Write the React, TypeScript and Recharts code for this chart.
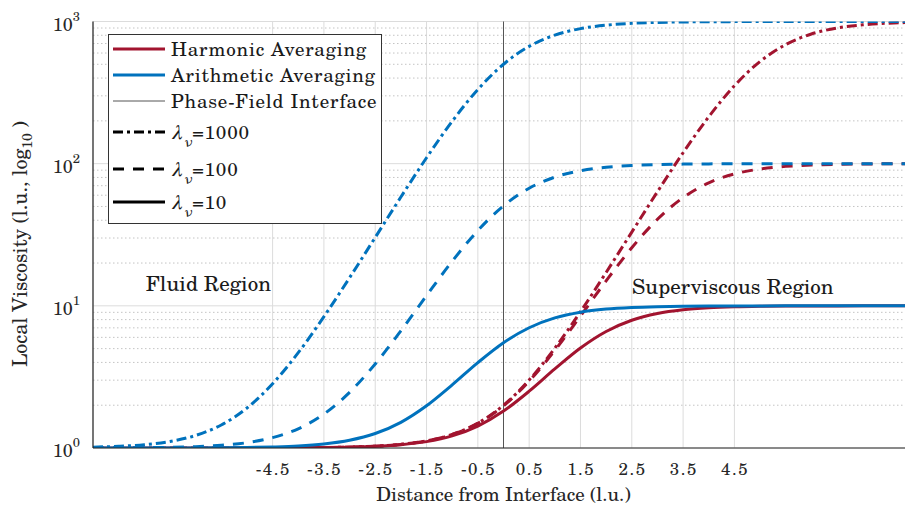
import React from 'react';
import {
  LineChart,
  Line,
  XAxis,
  YAxis,
  CartesianGrid,
  ReferenceLine,
  ReferenceDot,
} from 'recharts';

// distance from the interface (l.u.)
const distance = [-8, -7.5, -7, -6.5, -6, -5.5, -5, -4.5, -4, -3.5, -3, -2.5, -2, -1.5, -1, -0.5, 0, 0.5, 1, 1.5, 2, 2.5, 3, 3.5, 4, 4.5, 5, 5.5, 6, 6.5, 7, 7.5, 8];

// harmonic averaging
const harmonic10 = [1, 1, 1, 1.0001, 1.0002, 1.0004, 1.0008, 1.0017, 1.0033, 1.0067, 1.0135, 1.0271, 1.0544, 1.1089, 1.2166, 1.4258, 1.818, 2.509, 3.597, 5.046, 6.597, 7.913, 8.826, 9.376, 9.679, 9.838, 9.919, 9.96, 9.98, 9.99, 9.995, 9.998, 9.999];
const harmonic100 = [1, 1, 1.0001, 1.0001, 1.0002, 1.0005, 1.0009, 1.0018, 1.0037, 1.0074, 1.0148, 1.0299, 1.0602, 1.1211, 1.2435, 1.4892, 1.98, 2.954, 4.858, 8.474, 14.98, 25.63, 40.61, 57.74, 73.28, 84.64, 91.73, 95.71, 97.82, 98.9, 99.45, 99.73, 99.87];
const harmonic1000 = [1, 1, 1.0001, 1.0001, 1.0002, 1.0005, 1.0009, 1.0018, 1.0037, 1.0074, 1.015, 1.0302, 1.0608, 1.1223, 1.2464, 1.4959, 1.998, 3.008, 5.035, 9.092, 17.16, 33.02, 63.46, 119.3, 213.7, 353.2, 523.5, 688.6, 816.6, 899.7, 947.5, 973.2, 986.5];

// arithmetic averaging
const arithmetic10 = [1.0001, 1.0002, 1.0005, 1.001, 1.002, 1.004, 1.008, 1.017, 1.033, 1.067, 1.133, 1.264, 1.516, 1.982, 2.78, 3.986, 5.5, 7.014, 8.22, 9.018, 9.484, 9.736, 9.867, 9.933, 9.967, 9.984, 9.992, 9.996, 9.998, 9.999, 10, 10, 10];
const arithmetic100 = [1.001, 1.003, 1.005, 1.011, 1.022, 1.045, 1.09, 1.182, 1.365, 1.732, 2.463, 3.902, 6.675, 11.8, 20.58, 33.85, 50.5, 67.15, 80.42, 89.2, 94.33, 97.1, 98.54, 99.27, 99.64, 99.82, 99.91, 99.96, 99.98, 99.99, 100, 100, 100];
const arithmetic1000 = [1.014, 1.028, 1.055, 1.112, 1.225, 1.452, 1.91, 2.831, 4.681, 8.384, 15.76, 30.28, 58.27, 110, 198.6, 332.5, 500.5, 668.5, 802.4, 891, 942.7, 970.7, 985.2, 992.6, 996.3, 998.2, 999.1, 999.5, 999.8, 999.9, 999.9, 1000, 1000];

const xTicks = [-4.5, -3.5, -2.5, -1.5, -0.5, 0.5, 1.5, 2.5, 3.5, 4.5];
const yTicks = [1, 10, 100, 1000];
const yMinor = [2, 3, 4, 5, 6, 7, 8, 9, 20, 30, 40, 50, 60, 70, 80, 90, 200, 300, 400, 500, 600, 700, 800, 900];

const data = distance.map((x, i) => ({
  x,
  h10: harmonic10[i],
  h100: harmonic100[i],
  h1000: harmonic1000[i],
  a10: arithmetic10[i],
  a100: arithmetic100[i],
  a1000: arithmetic1000[i],
}));

const RED = '#A2142F';
const BLUE = '#0072BD';
const AXIS = '#262626';
const FONT = "C059, 'Century Schoolbook L', 'TeX Gyre Schola', 'Times New Roman', Tinos, 'Noto Serif', FreeSerif, 'Nimbus Roman', 'Liberation Serif', 'DejaVu Serif', serif";
const DASH = '11 9';
const DASHDOT = '10 4 3 4';
const LW = 3;

const YTick = (props: any) => {
  const { x, y, payload } = props;
  const exp = Math.round(Math.log10(payload.value));
  return (
    <text x={x - 13} y={y + 9} textAnchor="end" style={{ fontFamily: FONT }} fill={AXIS}>
      <tspan fontSize={18}>10</tspan>
      <tspan fontSize={13} dy={-10}>{exp}</tspan>
    </text>
  );
};

const XTick = (props: any) => {
  const { x, y, payload } = props;
  return (
    <text x={x} y={y} dy="0.71em" textAnchor="middle" style={{ fontFamily: FONT, letterSpacing: 1.5 }} fontSize={17} fill={AXIS}>
      <tspan dx={0.75}>{payload.value}</tspan>
    </text>
  );
};

const RegionLabel = (text: string) => (p: any) => (
  <text x={p.cx} y={p.cy} textAnchor="middle" dominantBaseline="central" style={{ fontFamily: FONT }} fontSize={21} fill="#1a1a1a">
    {text}
  </text>
);

const legendRows = [
  { label: 'Harmonic Averaging', color: RED, dash: undefined, width: 3 },
  { label: 'Arithmetic Averaging', color: BLUE, dash: undefined, width: 3 },
  { label: 'Phase-Field Interface', color: '#555', dash: undefined, width: 1 },
  { label: '1000', color: '#000', dash: DASHDOT, width: 3 },
  { label: '100', color: '#000', dash: DASH, width: 3 },
  { label: '10', color: '#000', dash: undefined, width: 3 },
];
const rowY = [15, 41, 67, 98, 135, 168];

const LegendBox = () => (
  <svg width={274} height={190} style={{ position: 'absolute', left: 108, top: 34, background: '#fff' }}>
    <rect x={0.5} y={0.5} width={273} height={189} fill="#fff" stroke="#333" strokeWidth={1} />
    {legendRows.map((r, i) => (
      <g key={r.label} style={{ fontFamily: FONT, letterSpacing: 0.8 }}>
        <line x1={5} x2={57} y1={rowY[i]} y2={rowY[i]} stroke={r.color} strokeWidth={r.width} strokeDasharray={r.dash} />
        {i < 3 ? (
          <text x={63} y={rowY[i] + 7} fontSize={19} fill="#1a1a1a">{r.label}</text>
        ) : (
          <text x={63} y={rowY[i] + 7} fontSize={19} fill="#1a1a1a">
            <tspan fontStyle="italic">λ</tspan>
            <tspan fontStyle="italic" fontSize={15} dy={8}>ν</tspan>
            <tspan dy={-8}>={r.label}</tspan>
          </text>
        )}
      </g>
    ))}
  </svg>
);

export default function App() {
  return (
    <div style={{ position: 'absolute', left: 0, top: 0, width: 905, height: 510, overflow: 'hidden', background: '#fff', fontFamily: FONT }}>
      <LineChart
        width={930}
        height={510}
        data={data}
        margin={{ top: 21.5, right: 16, left: 33, bottom: 32 }}
        style={{ fontFamily: FONT }}
      >
        <CartesianGrid stroke="#dcdcdc" strokeWidth={1} />
        <XAxis
          dataKey="x"
          type="number"
          domain={[-8, 8]}
          ticks={xTicks}
          allowDataOverflow
          height={30}
          tickLine={false}
          tickSize={7}
          tickMargin={8}
          axisLine={{ stroke: AXIS, strokeWidth: 1.2 }}
          tick={<XTick />}
          label={{ value: 'Distance from Interface (l.u.)', position: 'insideBottom', offset: -23, fontFamily: FONT, fontSize: 19, fill: AXIS }}
        />
        <XAxis xAxisId="in" dataKey="x" type="number" domain={[-8, 8]} ticks={xTicks} mirror height={0} tick={false} tickSize={7} axisLine={false} tickLine={{ stroke: AXIS }} />
        <XAxis xAxisId="top" orientation="top" dataKey="x" type="number" domain={[-8, 8]} ticks={xTicks} mirror height={0} tick={false} tickSize={7} axisLine={{ stroke: AXIS, strokeWidth: 1.2 }} tickLine={{ stroke: AXIS }} />
        <YAxis
          type="number"
          scale="log"
          domain={[1, 1000]}
          ticks={yTicks}
          allowDataOverflow
          width={60}
          tickLine={false}
          tickSize={0}
          tickMargin={0}
          axisLine={{ stroke: AXIS, strokeWidth: 1.2 }}
          tick={<YTick />}
        />
        <YAxis yAxisId="major" type="number" scale="log" domain={[1, 1000]} ticks={[10, 100]} mirror width={0} tick={false} tickSize={7} axisLine={false} tickLine={{ stroke: AXIS }} />
        <YAxis yAxisId="minor" type="number" scale="log" domain={[1, 1000]} ticks={yMinor} mirror width={0} tick={false} tickSize={3.5} axisLine={false} tickLine={{ stroke: AXIS }} />
        {yMinor.map((v) => (
          <ReferenceLine key={v} y={v} stroke="#c4c4c4" strokeDasharray="1.5 2.5" strokeWidth={1} />
        ))}
        <ReferenceLine x={0} stroke="#555" strokeWidth={1} />
        <ReferenceDot x={-5.75} y={14.5} r={0} shape={RegionLabel('Fluid Region')} />
        <ReferenceDot x={4.47} y={14} r={0} shape={RegionLabel('Superviscous Region')} />
        <Line dataKey="h1000" type="monotone" stroke={RED} strokeWidth={LW} strokeDasharray={DASHDOT} dot={false} isAnimationActive={false} />
        <Line dataKey="h100" type="monotone" stroke={RED} strokeWidth={LW} strokeDasharray={DASH} dot={false} isAnimationActive={false} />
        <Line dataKey="h10" type="monotone" stroke={RED} strokeWidth={LW} dot={false} isAnimationActive={false} />
        <Line dataKey="a1000" type="monotone" stroke={BLUE} strokeWidth={LW} strokeDasharray={DASHDOT} dot={false} isAnimationActive={false} />
        <Line dataKey="a100" type="monotone" stroke={BLUE} strokeWidth={LW} strokeDasharray={DASH} dot={false} isAnimationActive={false} />
        <Line dataKey="a10" type="monotone" stroke={BLUE} strokeWidth={LW} dot={false} isAnimationActive={false} />
      </LineChart>
      <LegendBox />
      <div
        style={{
          position: 'absolute',
          left: 20,
          top: 244,
          transform: 'translate(-50%, -50%) rotate(-90deg)',
          whiteSpace: 'nowrap',
          fontFamily: FONT,
          fontSize: 20,
          color: AXIS,
        }}
      >
        Local Viscosity (l.u., log<sub style={{ fontSize: 14 }}>10</sub> )
      </div>
    </div>
  );
}
